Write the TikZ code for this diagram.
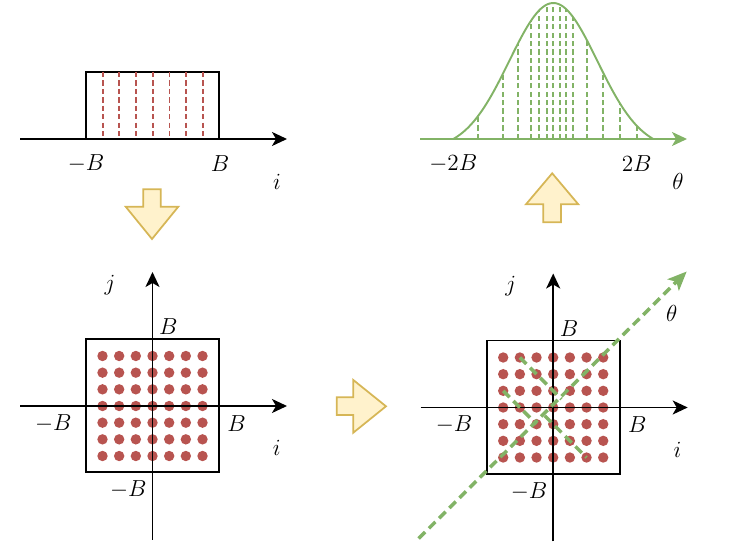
\documentclass[tikz,border=0pt]{standalone}
\usetikzlibrary{arrows.meta}
\definecolor{dotred}{HTML}{B85450}
\definecolor{thetagreen}{HTML}{82B366}
\definecolor{arrowfill}{HTML}{FFF2CC}
\definecolor{arrowline}{HTML}{D6B656}
\begin{document}
\begin{tikzpicture}[x=0.02cm,y=-0.02cm,
  every node/.style={font=\fontsize{12}{14}\selectfont,scale=1.1},
  axis/.style={line width=1.1pt,-{Stealth[length=0.3cm,width=0.28cm,inset=0.08cm]}},
  frame/.style={line width=1.1pt},
  reddash/.style={dotred,line width=1pt,dash pattern=on 3pt off 1.8pt},
  greendash/.style={thetagreen,line width=1pt,dash pattern=on 3pt off 1.8pt},
  thetadash/.style={thetagreen,line width=2pt,dash pattern=on 5.2pt off 3pt},
  blockarrow/.style={fill=arrowfill,draw=arrowline,line width=1pt,line join=miter},
  griddot/.style={fill=dotred}]
\useasboundingbox (0,0) rectangle (748,560);
% top left: box
\draw[frame] (86,139) -- (86,72) -- (219,72) -- (219,139);
\foreach \k in {0,...,6}
  \draw[reddash] ({102.7+16.67*\k},72) -- ({102.7+16.67*\k},139);
\draw[axis] (20,139) -- (287,139);
\node (boxlo) at (86,164) {$-B$};
\node (boxhi) at (220,164) {$B$};
\node (boxi) at (277,182) {$i$};
% top right: projected density
\foreach \px in {477.7,502.7,517.7,531,539.3,546.7,553.3,560,565.7,573.3,586.7,603.3,620,636.7}
  \draw[greendash] (\px,139) -- (\px,{139-147.1*(exp(-(\px-553.3)*(\px-553.3)/3872)-0.0756)});
\draw[thetagreen,line width=1.1pt] plot[domain=-100:100,samples=90,smooth]
  ({553.3+\x},{139-147.1*(exp(-(\x)*(\x)/3872)-0.0756)});
\draw[axis,thetagreen] (420,139) -- (687,139);
\node (gaulo) at (453.3,164) {$-2B$};
\node (gauhi) at (636.7,164) {$2B$};
\node (gautheta) at (678,181) {$\theta$};
% block arrows
\draw[blockarrow] (143.3,189.3) -- (160.7,189.3) -- (160.7,206.7) -- (178.3,206.7)
  -- (152,239) -- (125.7,206.7) -- (143.3,206.7) -- cycle;
\draw[blockarrow] (543.3,222.3) -- (561,222.3) -- (561,204.3) -- (578.3,204.3)
  -- (552.2,173.3) -- (526,204.3) -- (543.3,204.3) -- cycle;
\draw[blockarrow] (336.7,397.3) -- (353.3,397.3) -- (353.3,380) -- (386,406.3)
  -- (353.3,432.7) -- (353.3,415) -- (336.7,415) -- cycle;
% bottom left: grid
\draw[frame] (86,339) rectangle (219.3,472.3);
\foreach \k in {0,...,6}
  \foreach \m in {0,...,6}
    \fill[griddot] ({102.5+16.67*\k},{356+16.67*\m}) circle (5.2);
\draw[axis] (20,406) -- (287,406);
\draw[axis] (152.5,540) -- (152.5,272);
\node (gridj) at (110,285) {$j$};
\node (gridtop) at (168.3,326.7) {$B$};
\node (gridleft) at (53.3,423.3) {$-B$};
\node (gridright) at (236.7,423.3) {$B$};
\node (gridi) at (276.7,448.3) {$i$};
\node (gridbot) at (128.3,490) {$-B$};
% bottom right: grid with theta direction
\begin{scope}[shift={(400.7,1.5)}]
\draw[frame] (86,339) rectangle (219.3,472.3);
\foreach \k in {0,...,6}
  \foreach \m in {0,...,6}
    \fill[griddot] ({102.5+16.67*\k},{356+16.67*\m}) circle (5.2);
\draw[axis] (20,406) -- (287,406);
\draw[axis] (152.5,540) -- (152.5,272);
\draw[thetadash] (119.2,356) -- (160.85,397.65);
\draw[thetadash] (102.5,389.3) -- (135.85,422.65);
\draw[thetadash] (144.15,414.35) -- (185.8,456);
\draw[thetadash,-{Stealth[length=0.38cm,width=0.32cm,inset=0.09cm]}] (18,537) -- (286,270);
\node (rotj) at (110,285) {$j$};
\node (rottop) at (168.3,326.7) {$B$};
\node (rotleft) at (53.3,423.3) {$-B$};
\node (rotright) at (236.7,423.3) {$B$};
\node (roti) at (276.7,448.3) {$i$};
\node (rotbot) at (128.3,490) {$-B$};
\node (rottheta) at (271,311.8) {$\theta$};
\end{scope}
\end{tikzpicture}
\end{document}
